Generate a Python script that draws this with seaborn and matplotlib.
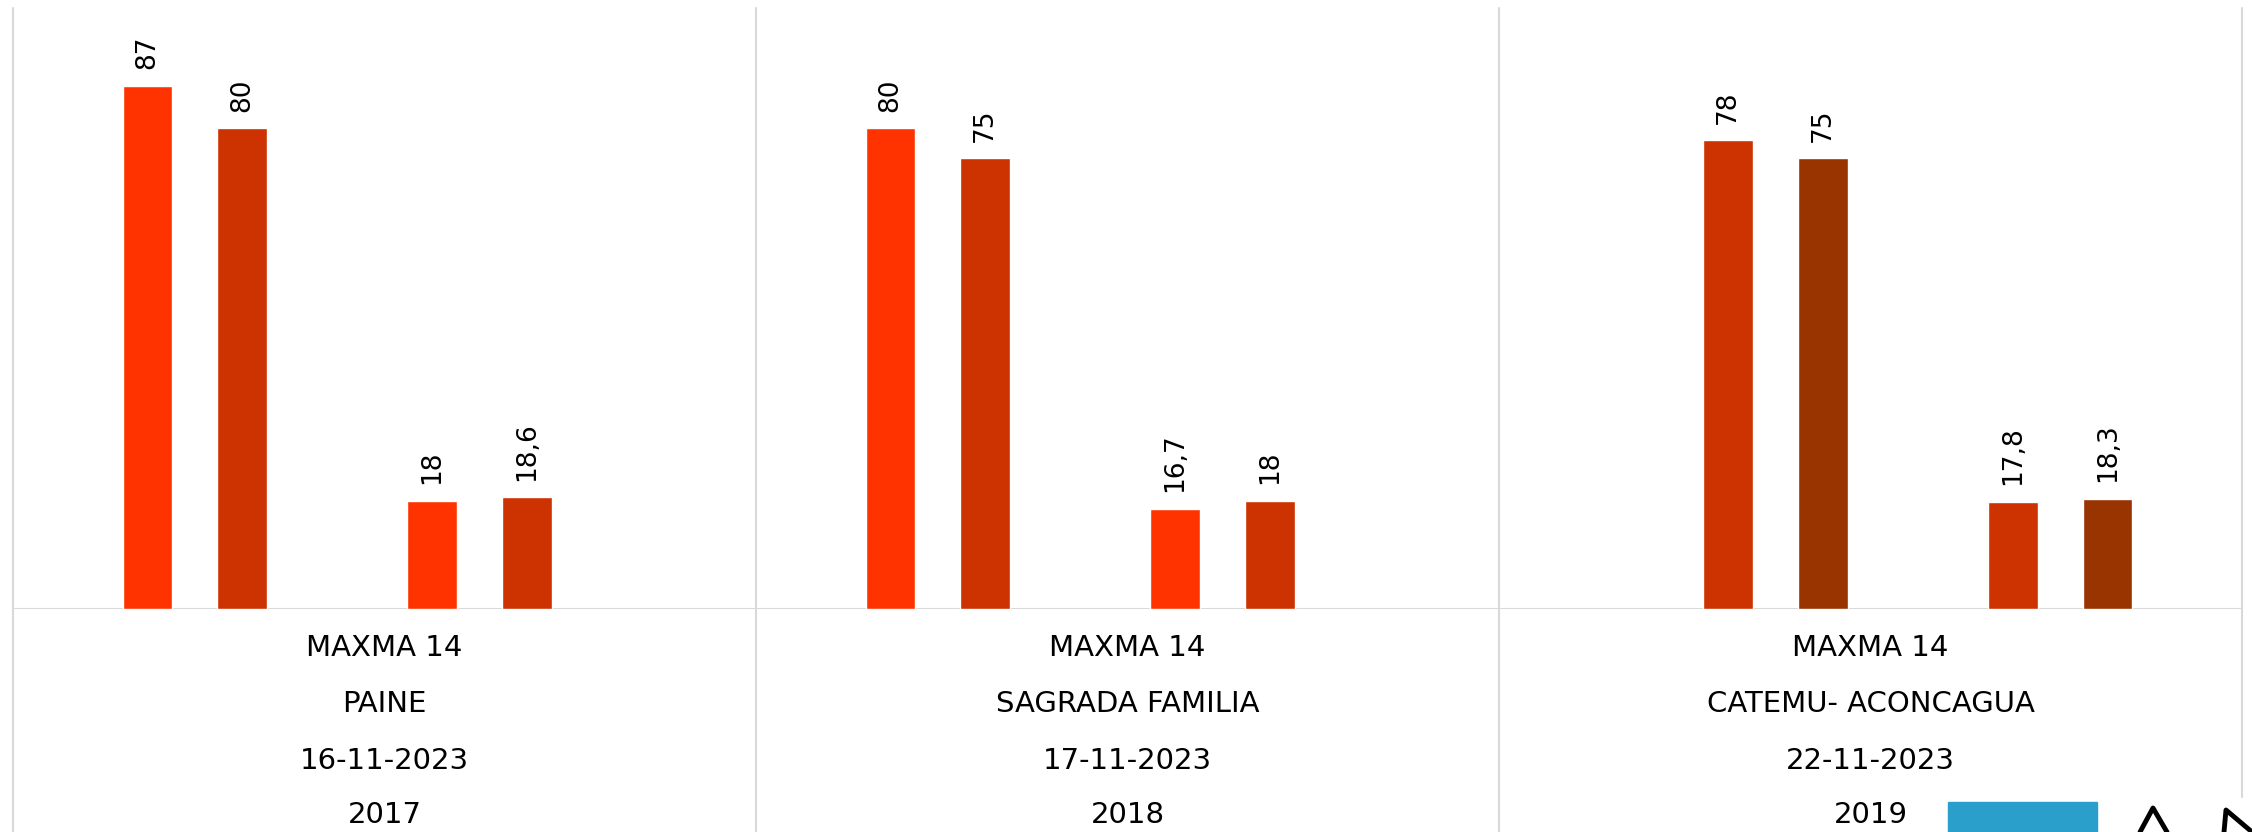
import matplotlib
matplotlib.use("Agg")
import matplotlib.pyplot as plt
import matplotlib.transforms as mtransforms
from matplotlib.lines import Line2D
from matplotlib.patches import Rectangle
import pandas as pd
import seaborn as sns

# category labels (multi-level axis of the original chart)
variedad = ["MAXMA 14", "MAXMA 14", "MAXMA 14"]
lugar = ["PAINE", "SAGRADA FAMILIA", "CATEMU- ACONCAGUA"]
fecha = ["16-11-2023", "17-11-2023", "22-11-2023"]
anio = ["2017", "2018", "2019"]

series = ["A1", "A2", "A3", "B1", "B2", "B3"]
colores = ["#FF3300", "#CC3300", "#993300", "#FF3300", "#CC3300", "#993300"]

# one list per category: (serie, valor)
valores_paine = [("A1", 87), ("A2", 80), ("B1", 18), ("B2", 18.6)]
valores_sagrada = [("A1", 80), ("A2", 75), ("B1", 16.7), ("B2", 18)]
valores_catemu = [("A2", 78), ("A3", 75), ("B2", 17.8), ("B3", 18.3)]

W, H = 2252, 832


def get_data():
    grupos = [f"{l} {f}" for l, f in zip(lugar, fecha)]
    rows = []
    for g, vals in zip(grupos, [valores_paine, valores_sagrada, valores_catemu]):
        for s, v in vals:
            rows.append([g, s, v])
    return grupos, pd.DataFrame(rows, columns=["grupo", "serie", "valor"])


def make_plot():
    grupos, df = get_data()
    sns.set_style("white")
    plt.rcParams["font.family"] = ["DejaVu Sans"]

    fig = plt.figure(figsize=(W / 100, H / 100), dpi=100)
    ax = fig.add_axes([13 / W, (H - 609) / H, (2242 - 13) / W, 601 / H])

    sns.barplot(data=df, x="grupo", y="valor", hue="serie", order=grupos,
                hue_order=series, palette=dict(zip(series, colores)),
                width=0.766, gap=0.476, saturation=1, errorbar=None,
                legend=False, ax=ax)

    for c in ax.containers:
        labels = [f"{v:g}".replace(".", ",") for v in c.datavalues]
        ax.bar_label(c, labels=labels, rotation=90, padding=12,
                     fontsize=19, color="black")

    ax.set_xlim(-0.5, 2.5)
    ax.set_ylim(0, 100)
    ax.set_yticks([])
    ax.set_xticks([])
    ax.set_xlabel("")
    ax.set_ylabel("")
    for sp in ax.spines.values():
        sp.set_visible(False)

    # multi-level category labels under each group
    trans = mtransforms.blended_transform_factory(ax.transData, fig.transFigure)
    baselines = [656, 712, 769, 823]
    for i in range(len(grupos)):
        lineas = [variedad[i], lugar[i], fecha[i], anio[i]]
        for txt, yb in zip(lineas, baselines):
            ax.text(i, (H - yb) / H, txt, transform=trans, ha="center",
                    va="baseline", fontsize=21, color="black")

    # separators and baseline in light grey
    ax.axhline(0, color="#D9D9D9", lw=1.5, zorder=0)
    for x in [-0.5, 0.5, 1.5, 2.5]:
        ax.axvline(x, ymin=-0.4, ymax=1, color="#D9D9D9", lw=1.5,
                   clip_on=False, zorder=0)

    # cut-off logo in the corner
    fig.patches.append(Rectangle((1935 / W, 0), (W - 1935) / W, 34 / H,
                                 transform=fig.transFigure, color="white", zorder=5))
    fig.patches.append(Rectangle((1948 / W, 0), (2097 - 1948) / W, 30 / H,
                                 transform=fig.transFigure, color="#2B9FCB", zorder=6))
    fig.lines.append(Line2D([2140 / W, 2153 / W, 2167 / W], [0, 24 / H, 0],
                            transform=fig.transFigure, color="black", lw=3.5, zorder=7))
    fig.lines.append(Line2D([2224 / W, 2226 / W, 2252 / W], [0, 22 / H, 0],
                            transform=fig.transFigure, color="black", lw=3.5, zorder=7))

    fig.savefig("out.png", dpi=100)


if __name__ == "__main__":
    make_plot()
